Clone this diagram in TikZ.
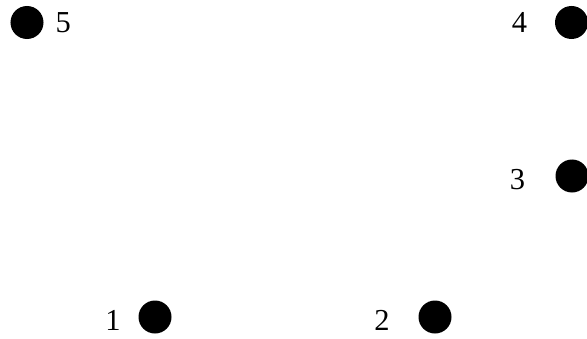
\documentclass[tikz,border=0pt]{standalone}
\usepackage{fontspec}
\setmainfont{Liberation Serif}
\usetikzlibrary{positioning}
\tikzset{
  dot/.style={circle, fill=black, draw=none, inner sep=0pt, minimum size=0.99cm},
  numlabel/.style={inner sep=0pt, font=\fontsize{26}{30}\selectfont},
}

\begin{document}
\begin{tikzpicture}[x=0.03cm, y=-0.03cm]
    \useasboundingbox (0,0) rectangle (587,339);
    \node[dot] (d1) at (155,317) {};
    \node[dot] (d2) at (435,317) {};
    \node[dot] (d3) at (572,176) {};
    \node[dot] (d4) at (571.5,22.5) {};
    \node[dot] (d5) at (27,22.5) {};
    \node[numlabel, left=0.52cm of d1, yshift=-0.1cm] (l1) {1};
    \node[numlabel, left=0.85cm of d2, yshift=-0.1cm] (l2) {2};
    \node[numlabel, left=0.9cm of d3, yshift=-0.1cm] (l3) {3};
    \node[numlabel, left=0.82cm of d4] (l4) {4};
    \node[numlabel, right=0.35cm of d5] (l5) {5};
  \end{tikzpicture}
\end{document}
